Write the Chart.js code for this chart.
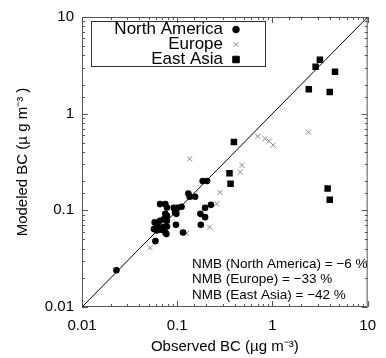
<!DOCTYPE html>
<html>
<head>
<meta charset="utf-8">
<script src="https://cdn.jsdelivr.net/npm/chart.js@4"></script>
<style>
  html, body { margin: 0; padding: 0; background: #fff; }
  #wrap { width: 386px; height: 358px; position: relative; }
</style>
</head>
<body>
<div id="wrap"><canvas id="c"></canvas></div>
<script>
// observed / modeled BC (µg m-3)
const naObserved = [0.023, 0.059, 0.057, 0.064, 0.072, 0.078, 0.061, 0.067, 0.075, 0.077,
    0.058, 0.061, 0.066, 0.072, 0.078, 0.075, 0.078, 0.066, 0.075, 0.078,
    0.092, 0.100, 0.111, 0.095, 0.098, 0.097, 0.115, 0.131, 0.135, 0.154,
    0.185, 0.206, 0.175, 0.196, 0.196, 0.226, 0.177];
const naModeled = [0.024, 0.048, 0.064, 0.067, 0.067, 0.068, 0.062, 0.063, 0.059, 0.057,
    0.075, 0.072, 0.078, 0.081, 0.078, 0.092, 0.088, 0.116, 0.116, 0.107,
    0.106, 0.106, 0.109, 0.095, 0.092, 0.071, 0.059, 0.149, 0.138, 0.138,
    0.201, 0.201, 0.092, 0.085, 0.106, 0.114, 0.071];

const euObserved = [0.052, 0.125, 0.135, 0.219, 0.260, 0.281, 0.460, 0.479, 0.700, 0.834, 0.925, 1.017, 2.39];
const euModeled  = [0.041, 0.058, 0.341, 0.067, 0.117, 0.153, 0.249, 0.292, 0.585, 0.551, 0.519, 0.472, 0.643];

const eaObserved = [0.394, 0.354, 0.363, 2.41, 2.84, 3.15, 4.54, 4.0, 3.80, 4.0];
const eaModeled  = [0.509, 0.242, 0.188, 1.79, 3.06, 3.61, 2.72, 1.68, 0.168, 0.129];

const oneToOne = [0.01, 10];
const tickLabels = ['0.01', '0.1', '1', '10'];
const legendLabels = ['North America', 'Europe', 'East Asia'];
const nmbLabels = ['NMB (North America) = \u22126 %', 'NMB (Europe) = \u221233 %', 'NMB (East Asia) = \u221242 %'];

const FONT = '"Liberation Sans", Arial, Helvetica, sans-serif';
const naar = (xs, ys) => xs.map((x, i) => ({ x: x, y: ys[i] }));

function etykietaOsi(v) {
    const l = Math.log10(v);
    const r = Math.round(l);
    if (Math.abs(l - r) > 1e-6) return '';
    return tickLabels[r + 2] ?? '';
}

// ramka + kreski skali do wewnatrz, na wszystkich czterech bokach
const ramkaPlugin = {
    id: 'ramka',
    beforeDatasetsDraw(chart) {
        const { ctx, chartArea: a, scales } = chart;
        ctx.save();
        ctx.strokeStyle = '#555';
        ctx.lineWidth = 1;
        ctx.strokeRect(a.left + 0.5, a.top + 0.5, a.right - a.left - 1, a.bottom - a.top - 1);
        ctx.beginPath();
        scales.x.ticks.forEach(t => {
            const px = Math.round(scales.x.getPixelForValue(t.value)) + 0.5;
            const len = etykietaOsi(t.value) ? 6 : 3;
            ctx.moveTo(px, a.bottom); ctx.lineTo(px, a.bottom - len);
            ctx.moveTo(px, a.top); ctx.lineTo(px, a.top + len);
        });
        scales.y.ticks.forEach(t => {
            const py = Math.round(scales.y.getPixelForValue(t.value)) + 0.5;
            const len = etykietaOsi(t.value) ? 6 : 3;
            ctx.moveTo(a.left, py); ctx.lineTo(a.left + len, py);
            ctx.moveTo(a.right, py); ctx.lineTo(a.right - len, py);
        });
        ctx.stroke();
        ctx.restore();
    },
    afterDraw(chart) {
        const { ctx, chartArea: a } = chart;
        ctx.save();
        // legenda
        ctx.strokeStyle = '#333';
        ctx.lineWidth = 1;
        ctx.strokeRect(a.left + 9.5, a.top + 4.5, 174, 45);
        ctx.font = '17px ' + FONT;
        ctx.fillStyle = '#000';
        ctx.textAlign = 'right';
        ctx.textBaseline = 'middle';
        [0, 1, 2].forEach(i => {
            const ds = chart.data.datasets[i];
            const yy = a.top + 12.5 + i * 15;
            ctx.fillStyle = '#000';
            ctx.fillText(legendLabels[i], a.left + 141, yy);
            ctx.fillStyle = ds.backgroundColor;
            ctx.strokeStyle = ds.borderColor;
            ctx.lineWidth = ds.borderWidth || 1;
            Chart.helpers.drawPoint(ctx, { pointStyle: ds.pointStyle, radius: ds.pointRadius, borderWidth: ctx.lineWidth, rotation: 0 }, a.left + 154, yy);
        });
        // NMB
        ctx.font = '13.5px ' + FONT;
        ctx.fillStyle = '#000';
        ctx.textAlign = 'left';
        nmbLabels.forEach((t, i) => {
            ctx.fillText(t, a.left + 110, a.bottom - 43 + i * 15.7);
        });
        ctx.restore();
    }
};

new Chart(document.getElementById('c'), {
    type: 'scatter',
    data: {
        datasets: [
            {
                label: legendLabels[0],
                data: naar(naObserved, naModeled),
                pointStyle: 'circle',
                pointRadius: 3.3,
                backgroundColor: '#000',
                borderColor: '#000',
                borderWidth: 0
            },
            {
                label: legendLabels[1],
                data: naar(euObserved, euModeled),
                pointStyle: 'crossRot',
                pointRadius: 3.6,
                backgroundColor: '#888',
                borderColor: '#888',
                borderWidth: 1
            },
            {
                label: legendLabels[2],
                data: naar(eaObserved, eaModeled),
                pointStyle: 'rect',
                pointRadius: 4.6,
                backgroundColor: '#000',
                borderColor: '#000',
                borderWidth: 0
            },
            {
                label: '1:1',
                data: naar(oneToOne, oneToOne),
                showLine: true,
                pointRadius: 0,
                borderColor: '#000',
                borderWidth: 1
            }
        ]
    },
    options: {
        responsive: true,
        maintainAspectRatio: false,
        animation: false,
        devicePixelRatio: 1,
        layout: { padding: { left: 0, top: 15, right: 13, bottom: 0 } },
        plugins: {
            legend: { display: false },
            tooltip: { enabled: false }
        },
        scales: {
            x: {
                type: 'logarithmic',
                min: 0.01,
                max: 10,
                afterFit: s => { s.height = 51; },
                grid: { display: false, drawTicks: false },
                border: { display: false },
                ticks: {
                    autoSkip: false,
                    maxRotation: 0,
                    padding: 10,
                    color: '#000',
                    font: { family: FONT, size: 15 },
                    callback: v => etykietaOsi(v)
                },
                title: {
                    display: true,
                    text: 'Observed BC (\u00b5g m\u207b\u00b3)',
                    color: '#000',
                    font: { family: FONT, size: 15 },
                    padding: { top: 0, bottom: 2 }
                }
            },
            y: {
                type: 'logarithmic',
                min: 0.01,
                max: 10,
                afterFit: s => { s.width = 82; },
                grid: { display: false, drawTicks: false },
                border: { display: false },
                ticks: {
                    autoSkip: false,
                    padding: 8,
                    color: '#000',
                    font: { family: FONT, size: 15 },
                    callback: v => etykietaOsi(v)
                },
                title: {
                    display: true,
                    text: 'Modeled BC (\u00b5 g m\u207b\u00b3 )',
                    color: '#000',
                    font: { family: FONT, size: 15 },
                    padding: { top: 14, bottom: 0 }
                }
            }
        }
    },
    plugins: [ramkaPlugin]
});
</script>
</body>
</html>
